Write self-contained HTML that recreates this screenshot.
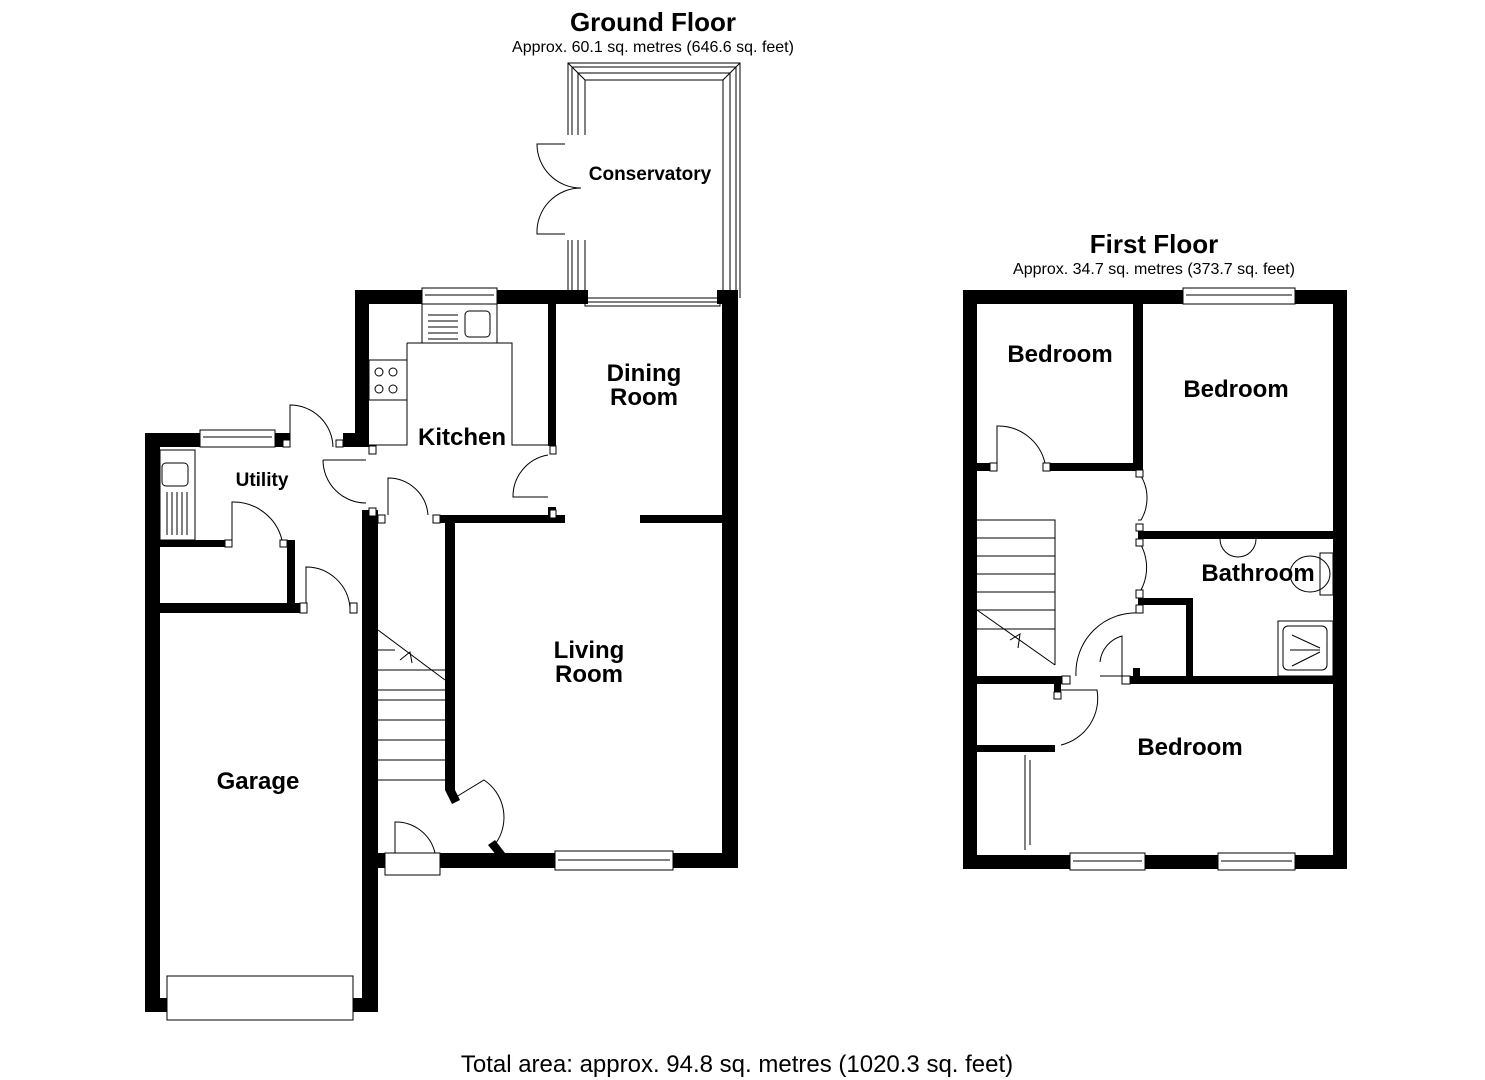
<!DOCTYPE html>
<html><head><meta charset="utf-8"><style>
html,body{margin:0;padding:0;background:#fff;}
svg{display:block;}
text{font-family:"Liberation Sans",Arial,sans-serif;fill:#000;}
.b{font-weight:bold;font-size:24px;}
</style></head><body>
<svg width="1485" height="1080" viewBox="0 0 1485 1080" xmlns="http://www.w3.org/2000/svg">
<g font-family="Liberation Sans">
<text x="653" y="31" text-anchor="middle" font-weight="bold" font-size="26">Ground Floor</text>
<text x="653" y="52" text-anchor="middle" font-size="16">Approx. 60.1 sq. metres (646.6 sq. feet)</text>
<text x="1154" y="253" text-anchor="middle" font-weight="bold" font-size="26">First Floor</text>
<text x="1154" y="274" text-anchor="middle" font-size="16">Approx. 34.7 sq. metres (373.7 sq. feet)</text>
<text x="737" y="1072" text-anchor="middle" font-size="24">Total area: approx. 94.8 sq. metres (1020.3 sq. feet)</text>
</g>

<!-- Conservatory -->
<g fill="none" stroke="#000" stroke-width="1">
<path d="M568 135 V63 H740 V298"/>
<path d="M572 135 V67 H736 V298"/>
<path d="M578 135 V73 H730 V298"/>
<path d="M585 135 V80 H723 V298"/>
<path d="M568 240 V298 M572 240 V298 M578 240 V298 M585 240 V298"/>
<path d="M568 63 L585 80 M740 63 L723 80"/>
<path d="M565 144 H537 A44 44 0 0 0 581 188"/>
<path d="M565 234 H537 A44 44 0 0 1 581 188"/>
</g>
<rect x="585" y="298" width="135" height="8" fill="#fff" stroke="#000"/>
<line x1="585" y1="302" x2="720" y2="302" stroke="#000"/>

<!-- Ground floor walls -->
<g fill="#000">
<rect x="355" y="290" width="67" height="14"/>
<rect x="497" y="290" width="91" height="14"/>
<rect x="717" y="290" width="21" height="14"/>
<rect x="355" y="290" width="14" height="156"/>
<rect x="343" y="433" width="26" height="14"/>
<rect x="722" y="290" width="16" height="578"/>
<rect x="548" y="304" width="8" height="142"/>
<rect x="548" y="507" width="8" height="10"/>
<rect x="440" y="515" width="125" height="8"/>
<rect x="640" y="515" width="82" height="8"/>
<rect x="445" y="520" width="10" height="270"/>
<rect x="440" y="853" width="115" height="15"/>
<rect x="673" y="853" width="65" height="15"/>
<rect x="370" y="853" width="15" height="15"/>
<rect x="145" y="433" width="55" height="14"/>
<rect x="275" y="433" width="15" height="14"/>
<rect x="145" y="433" width="15" height="579"/>
<rect x="160" y="540" width="65" height="7"/>
<rect x="287" y="540" width="8" height="70"/>
<rect x="160" y="603" width="140" height="10"/>
<rect x="362" y="510" width="16" height="502"/>
<rect x="145" y="998" width="22" height="14"/>
<rect x="353" y="998" width="25" height="14"/>
<polygon points="445,790 455,790 460,800 452,804"/>
<polygon points="488,845 495,840 505,853 497,856"/>
</g>
<g fill="none" stroke="#000" stroke-width="1">
<rect x="422" y="288" width="75" height="16" fill="#fff"/>
<line x1="425" y1="295" x2="494" y2="295"/>
<rect x="200" y="430" width="75" height="17" fill="#fff"/>
<line x1="203" y1="437" x2="272" y2="437"/>
<rect x="555" y="851" width="118" height="19" fill="#fff"/>
<line x1="558" y1="860" x2="670" y2="860"/>
<rect x="167" y="976" width="186" height="44" fill="#fff"/>
<rect x="385" y="853" width="55" height="22" fill="#fff"/>
<rect x="422" y="304" width="75" height="39"/>
<path d="M428 315 H458 M428 321 H458 M428 327 H458 M428 333 H458 M428 339 H458"/>
<rect x="465" y="311" width="25" height="26" rx="4"/>
<path d="M407 343 H512 V445 H548 M407 343 V445 H369"/>
<rect x="369" y="360" width="38" height="40"/>
<circle cx="379" cy="372" r="4"/><circle cx="393" cy="372" r="4"/>
<circle cx="379" cy="389" r="4"/><circle cx="393" cy="389" r="4"/>
<rect x="160" y="450" width="35" height="90"/>
<rect x="162" y="463" width="26" height="23" rx="4"/>
<path d="M167 492 V535 M172 492 V535 M177 492 V535 M182 492 V535 M187 492 V535"/>
<path d="M290 447 V405 A43 43 0 0 1 333 447"/>
<path d="M323 460 A43 43 0 0 0 366 503 M323 460 H366"/>
<path d="M388 515 V478 A40 40 0 0 1 428 515"/>
<path d="M548 455 A42 42 0 0 0 513 497 H548"/>
<path d="M232 540 V502 A50 50 0 0 1 282 540"/>
<path d="M306 608 V567 A44 44 0 0 1 350 608"/>
<path d="M395 853 V822 A40 40 0 0 1 435 853"/>
<path d="M456 797 L484 780 A45 45 0 0 1 496 843"/>
<path d="M378 630 L445 680 M378 650 H395 M378 700 H445 M378 720 H445 M378 740 H445 M378 760 H445 M378 780 H445"/>
<path d="M378 670 H445 M378 690 H445 M400 660 L410 652 L412 663"/>
</g>
<g fill="#fff" stroke="#000" stroke-width="1">
<rect x="369" y="446" width="7" height="8"/><rect x="369" y="508" width="7" height="8"/>
<rect x="378" y="515" width="7" height="8"/><rect x="433" y="515" width="7" height="8"/>
<rect x="550" y="446" width="6" height="8"/><rect x="550" y="510" width="6" height="8"/>
<rect x="225" y="540" width="7" height="7"/><rect x="280" y="540" width="7" height="7"/>
<rect x="300" y="603" width="7" height="10"/><rect x="350" y="603" width="7" height="10"/>
<rect x="283" y="440" width="7" height="7"/><rect x="336" y="440" width="7" height="7"/>
</g>

<!-- First floor -->
<g fill="#000">
<rect x="963" y="290" width="220" height="14"/>
<rect x="1295" y="290" width="52" height="14"/>
<rect x="963" y="290" width="14" height="579"/>
<rect x="1333" y="290" width="14" height="579"/>
<rect x="963" y="855" width="107" height="14"/>
<rect x="1145" y="855" width="73" height="14"/>
<rect x="1295" y="855" width="52" height="14"/>
<rect x="1133" y="304" width="10" height="166"/>
<rect x="977" y="463" width="13" height="8"/>
<rect x="1050" y="463" width="93" height="8"/>
<rect x="1138" y="531" width="195" height="8"/>
<rect x="1138" y="598" width="55" height="7"/>
<rect x="1186" y="598" width="7" height="83"/>
<rect x="977" y="676" width="85" height="8"/>
<rect x="1130" y="676" width="203" height="8"/>
<rect x="1133" y="668" width="7" height="8"/>
<rect x="977" y="745" width="78" height="7"/>
<rect x="1054" y="684" width="7" height="8"/>
</g>
<g fill="none" stroke="#000" stroke-width="1">
<rect x="1183" y="288" width="112" height="16" fill="#fff"/>
<line x1="1186" y1="295" x2="1292" y2="295"/>
<rect x="1070" y="853" width="75" height="17" fill="#fff"/>
<line x1="1073" y1="861" x2="1142" y2="861"/>
<rect x="1218" y="853" width="77" height="17" fill="#fff"/>
<line x1="1221" y1="861" x2="1292" y2="861"/>
<path d="M997 463 V426 A48 48 0 0 1 1045 463"/>
<path d="M1141 476 A43 43 0 0 1 1141 520 H1138"/>
<path d="M1141 545 A48 48 0 0 1 1141 590"/>
<path d="M1140 613 A60 60 0 0 0 1076 676"/>
<path d="M1100 662 A30 30 0 0 1 1122 636 V676 H1100"/>
<path d="M1061 745 A48 48 0 0 0 1097 690 H1061"/>
<path d="M1025 755 V850 M1030 760 V845"/>
<path d="M977 520 H1055 V665 M977 538 H1055 M977 556 H1055 M977 574 H1055 M977 592 H1055 M977 610 H1055 M977 629 H1055"/>
<path d="M977 610 L1055 665 M1010 640 L1020 634 L1018 648"/>
<path d="M1220 539 A18 18 0 0 0 1256 539"/>
<path d="M1320 553 H1333 V595 H1320 Z"/>
<ellipse cx="1310" cy="574" rx="20" ry="18"/>
<rect x="1278" y="621" width="55" height="55"/>
<rect x="1283" y="626" width="44" height="44" rx="5"/>
<path d="M1290 650 H1320 M1292 635 L1320 648 M1292 666 L1320 652"/>
</g>
<g fill="#fff" stroke="#000" stroke-width="1">
<rect x="990" y="463" width="7" height="8"/><rect x="1043" y="463" width="7" height="8"/>
<rect x="1136" y="470" width="7" height="7"/><rect x="1136" y="524" width="7" height="7"/>
<rect x="1136" y="539" width="7" height="7"/><rect x="1136" y="590" width="7" height="8"/>
<rect x="1136" y="605" width="7" height="8"/><rect x="1122" y="676" width="8" height="8"/>
<rect x="1062" y="676" width="8" height="8"/><rect x="1054" y="692" width="7" height="7"/>
</g>

<text class="b" x="650" y="180" text-anchor="middle" style="font-size:19px">Conservatory</text>
<text class="b" x="644" y="381" text-anchor="middle">Dining</text>
<text class="b" x="644" y="405" text-anchor="middle">Room</text>
<text class="b" x="462" y="445" text-anchor="middle">Kitchen</text>
<text class="b" x="262" y="486" text-anchor="middle" style="font-size:19px">Utility</text>
<text class="b" x="589" y="658" text-anchor="middle">Living</text>
<text class="b" x="589" y="682" text-anchor="middle">Room</text>
<text class="b" x="258" y="789" text-anchor="middle">Garage</text>
<text class="b" x="1060" y="362" text-anchor="middle">Bedroom</text>
<text class="b" x="1236" y="397" text-anchor="middle">Bedroom</text>
<text class="b" x="1258" y="581" text-anchor="middle">Bathroom</text>
<text class="b" x="1190" y="755" text-anchor="middle">Bedroom</text>
</svg>
</body></html>
